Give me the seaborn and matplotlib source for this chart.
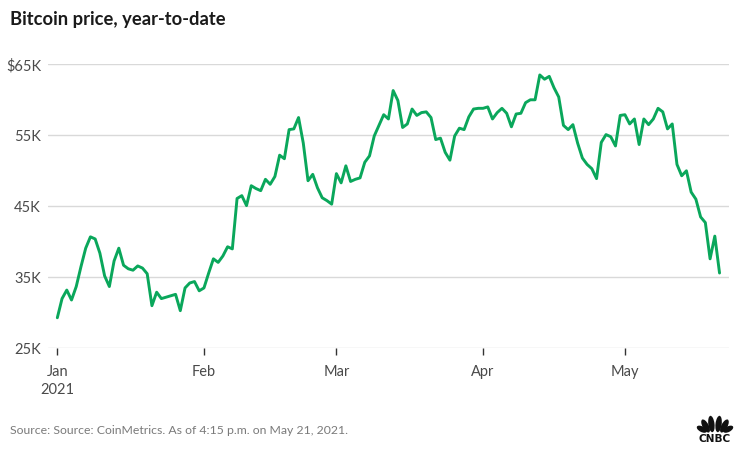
import pandas as pd
import matplotlib.pyplot as plt
import matplotlib.dates as mdates
import seaborn as sns
from matplotlib.patches import Ellipse

# daily closing price in $K, from Jan 1 2021
prices = [
    29.3, 32.0, 33.2, 31.8, 33.7, 36.5, 39.1, 40.7, 40.4, 38.4, 35.2, 33.7, 37.3, 39.1, 36.7,
    36.2, 36.0, 36.6, 36.3, 35.5, 31.0, 32.9, 32.0, 32.2, 32.4, 32.6, 30.3, 33.5, 34.2, 34.4,
    33.1, 33.5, 35.6, 37.6, 37.1, 38.0, 39.3, 39.0, 46.1, 46.5, 45.1, 47.9, 47.5, 47.2, 48.8,
    48.1, 49.2, 52.2, 51.7, 55.8, 55.9, 57.5, 53.9, 48.6, 49.5, 47.6, 46.2, 45.8, 45.3, 49.6,
    48.3, 50.7, 48.5, 48.8, 49.0, 51.2, 52.1, 54.9, 56.4, 57.9, 57.3, 61.3, 59.9, 56.1, 56.6,
    58.7, 57.8, 58.2, 58.3, 57.5, 54.4, 54.6, 52.6, 51.5, 54.9, 56.0, 55.8, 57.6, 58.7, 58.8,
    58.8, 59.0, 57.3, 58.2, 58.8, 58.1, 56.2, 58.0, 58.1, 59.6, 60.0, 60.0, 63.5, 62.9, 63.3,
    61.7, 60.4, 56.4, 55.8, 56.5, 53.9, 51.8, 50.9, 50.3, 48.9, 54.0, 55.1, 54.8, 53.5, 57.8,
    57.9, 56.6, 57.3, 53.7, 57.3, 56.5, 57.3, 58.8, 58.3, 55.9, 56.6, 50.9, 49.3, 50.0, 47.0,
    46.0, 43.5, 42.7, 37.6, 40.8, 35.6,
]
y_ticks = [25, 35, 45, 55, 65]
y_labels = ["25K", "35K", "45K", "55K", "$65K"]
month_starts = ["2021-01-01", "2021-02-01", "2021-03-01", "2021-04-01", "2021-05-01"]
month_labels = ["Jan\n2021", "Feb", "Mar", "Apr", "May"]

title = "Bitcoin price, year-to-date"
source = "Source: Source: CoinMetrics. As of 4:15 p.m. on May 21, 2021."

GREEN = "#0aa75b"
W, H = 740, 457


def draw_logo(fig):
    # overlay in pixel coordinates just for the peacock
    ax = fig.add_axes([0, 0, 1, 1])
    ax.set_xlim(0, W)
    ax.set_ylim(H, 0)
    ax.axis("off")
    # dx from centre, cy, width, length, tilt
    feathers = [(3.6, 424, 6.2, 16.5, 7), (9.4, 426, 6.2, 14.5, 28), (13.2, 429.2, 5.6, 11, 62)]
    for dx, cy, w, length, tilt in feathers:
        ax.add_patch(Ellipse((715 - dx, cy), w, length, angle=-tilt, color="#111111", lw=0))
        ax.add_patch(Ellipse((715 + dx, cy), w, length, angle=tilt, color="#111111", lw=0))
    ax.text(714.5, 438.5, "CNBC", ha="center", va="center", fontsize=7.6, fontweight="bold",
            family="DejaVu Sans", color="#111111")


df = pd.DataFrame({"date": pd.date_range("2021-01-01", periods=len(prices)), "price": prices})

sns.set_theme(style="white")
plt.rcParams["font.family"] = ["Lato", "DejaVu Sans"]

fig = plt.figure(figsize=(W / 100, H / 100), dpi=100)
ax = fig.add_axes([48 / W, 1 - 348.3 / H, (729 - 48) / W, (348.3 - 64.3) / H])

ax.set_axisbelow(True)
ax.grid(axis="y", color="#d9d9d9", lw=1.0)
sns.lineplot(data=df, x="date", y="price", color=GREEN, lw=2.1, ax=ax, errorbar=None)

ax.set_ylim(25, 65)
ax.set_yticks(y_ticks)
ax.set_yticklabels(y_labels, fontsize=10.5, color="#4a4a4a")
ax.tick_params(axis="y", length=0, pad=5)

ax.set_xlim(pd.Timestamp("2021-01-01") - pd.Timedelta(days=1.97), pd.Timestamp("2021-01-01") + pd.Timedelta(days=142))
ax.set_xticks([mdates.date2num(pd.Timestamp(d)) for d in month_starts])
ax.set_xticklabels(month_labels, fontsize=10.5, color="#4a4a4a", linespacing=1.35)
ax.tick_params(axis="x", length=5, width=1, color="#333333", pad=7, bottom=True)
ax.set_xlabel("")
ax.set_ylabel("")
sns.despine(ax=ax, left=True, bottom=True)

fig.text(10 / W, 1 - 20 / H, title, fontsize=13.2, fontweight="bold", color="#1a1a1a", va="center")
fig.text(10 / W, 1 - 431 / H, source, fontsize=8.8, color="#7a7a7a", va="center")

draw_logo(fig)

fig.savefig("out.png", dpi=100)
